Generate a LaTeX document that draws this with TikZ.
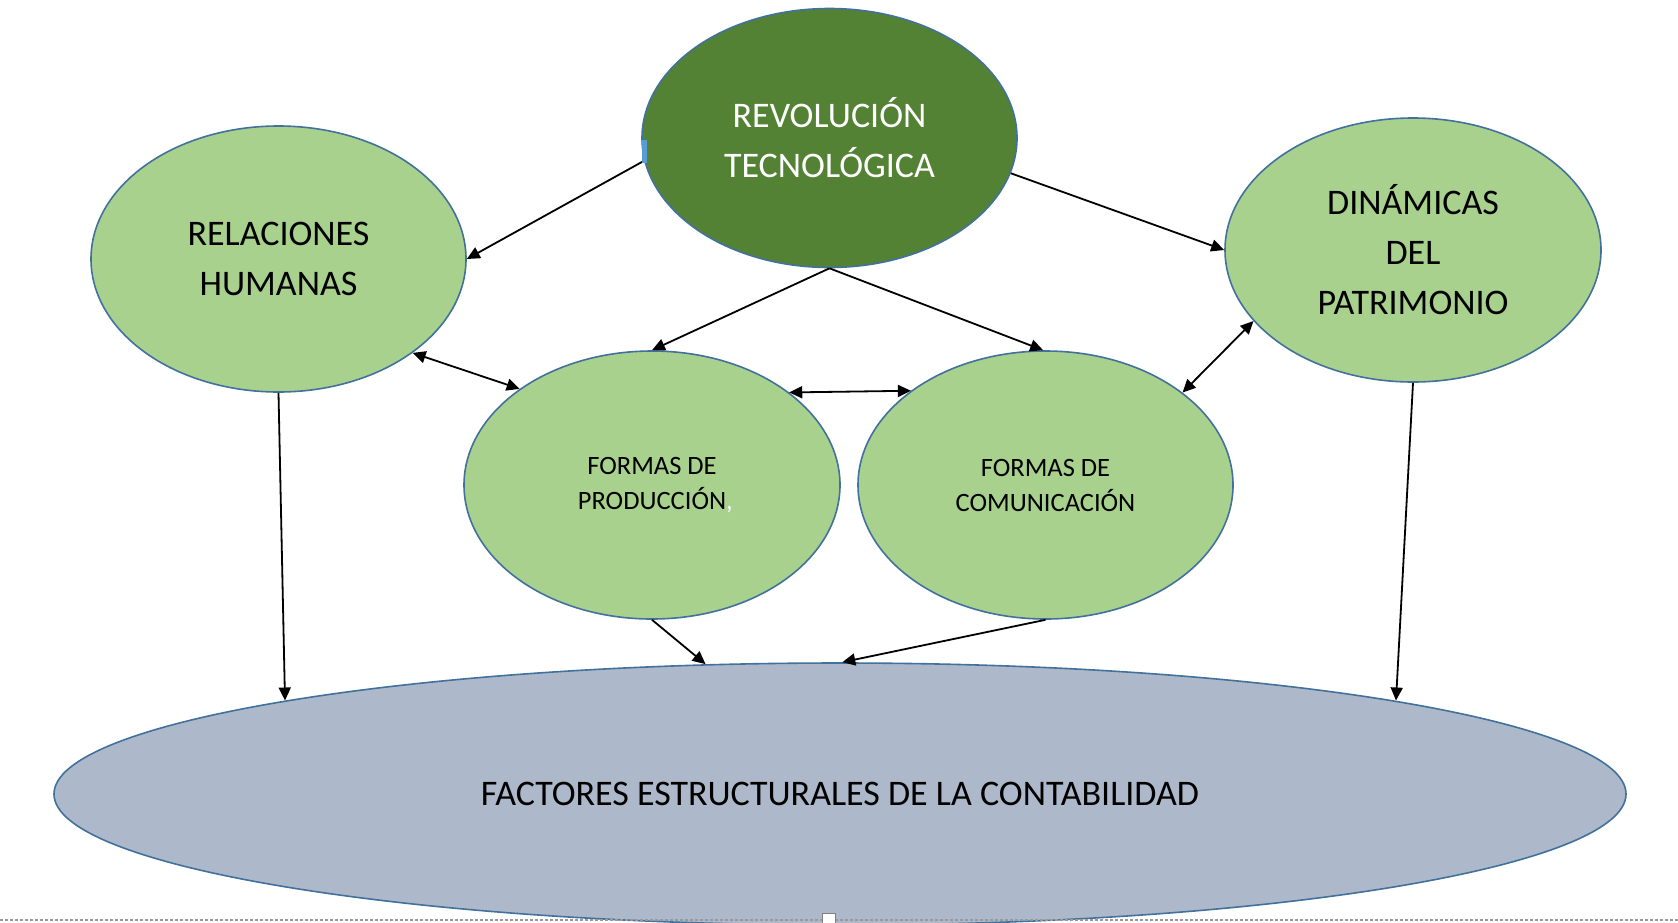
\documentclass[tikz,border=0pt]{standalone}
\usepackage{fontspec}
\setmainfont{Carlito}
\usetikzlibrary{arrows.meta,shapes.geometric}
\definecolor{lgreen}{HTML}{A9D18E}
\definecolor{dgreen}{HTML}{548235}
\definecolor{grayblue}{HTML}{ADB9CA}
\definecolor{edgeblue}{HTML}{41719C}
\definecolor{handle}{HTML}{5B9BD5}
\begin{document}
\begin{tikzpicture}[x=1pt,y=-1pt,
  bub/.style={ellipse, draw=edgeblue, line width=1.6pt, inner sep=0pt, align=center},
  bigtxt/.style={font=\fontsize{36}{50}\selectfont},
  smalltxt/.style={font=\fontsize{26.5}{35}\selectfont},
  arr/.style={-{Triangle[length=13pt,width=12pt]}, line width=1.8pt},
  darr/.style={{Triangle[length=13pt,width=12pt]}-{Triangle[length=13pt,width=12pt]}, line width=1.8pt}]
\useasboundingbox (0,0) rectangle (1678,922);
\fill[white] (0,0) rectangle (1678,922);

\node[bub, fill=dgreen, text=white, bigtxt, minimum width=375pt, minimum height=259pt] (rev) at (829.5,138) {REVOLUCIÓN\\TECNOLÓGICA};
\node[bub, fill=lgreen, bigtxt, minimum width=375pt, minimum height=266pt] (rel) at (278.5,259) {RELACIONES\\HUMANAS};
\node[bub, fill=lgreen, bigtxt, minimum width=376pt, minimum height=264pt] (din) at (1413,250) {DINÁMICAS\\DEL\\PATRIMONIO};
\node[bub, fill=lgreen, smalltxt, minimum width=376pt, minimum height=268pt] (prod) at (652,485) {FORMAS DE\\PRODUCCIÓN\rlap{\textcolor{white}{,}}};
\node[bub, fill=lgreen, smalltxt, minimum width=375pt, minimum height=268pt] (com) at (1045.5,485) {FORMAS DE\\COMUNICACIÓN};
\node[bub, fill=grayblue, bigtxt, minimum width=1572pt, minimum height=262pt] (fac) at (840,794) {FACTORES ESTRUCTURALES DE LA CONTABILIDAD};

\coordinate (facL) at (285,700.5);
\coordinate (facR) at (1396,700.5);

\draw[arr] (rev.187.3) -- (rel.0);
\draw[arr] (rev.349.3) -- (din.180);
\draw[arr] (rev.270) -- (prod.90);
\draw[arr] (rev.270) -- (com.91);
\draw[darr] (rel.325.3) -- (prod.144.95);
\draw[darr] (prod.34.6) -- (com.145.6);
\draw[darr] (com.34.3) -- (din.204.7);
\draw[arr] (rel.270) -- (facL);
\draw[arr] (din.270) -- (facR);
\draw[arr] (prod.270) -- (fac.136);
\draw[arr] (com.270) -- (fac.89.6);

\fill[handle] (642,140) rectangle (647,163);
\draw[gray!80, line width=1.5pt, dash pattern=on 3pt off 2pt] (0,920) -- (1678,920);
\draw[gray, fill=white, line width=1pt] (822,913) rectangle (835,924);
\end{tikzpicture}
\end{document}
